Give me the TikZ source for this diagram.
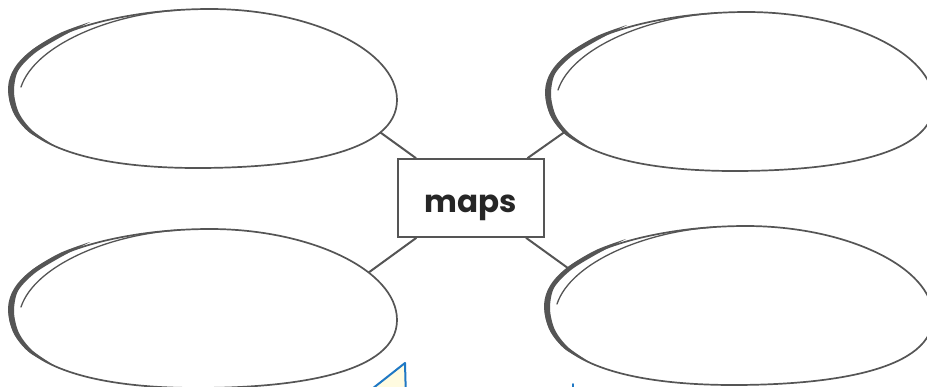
\documentclass[tikz,border=0pt]{standalone}
\usepackage{fontspec}
\setmainfont{Poppins}
\usetikzlibrary{backgrounds}
\definecolor{ink}{HTML}{555555}
\definecolor{pencilblue}{HTML}{1F78C4}
\definecolor{cream}{HTML}{FFFBE0}
\tikzset{
  sk/.style={draw=ink, line width=1.7pt, line cap=round, line join=round},
  link/.style={draw=ink, line width=2pt},
  mapsbox/.style={draw=ink, line width=1.6pt, fill=white, minimum width=146pt,
    minimum height=78pt, inner sep=0pt, text height=28pt, text depth=0pt,
    text=black!85, font=\bfseries\fontsize{31}{37}\selectfont},
  pencil/.style={draw=pencilblue, line width=2pt, line join=round, fill=cream},
  % hand-drawn oval: outline, tapered brush stroke on the left, inner sketch arc
  blob/.pic={
    \path[sk, fill=white] (9,92) .. controls (5,40) and (110,9) .. (210,9)
      .. controls (310,9) and (397,50) .. (397,100)
      .. controls (397,152) and (300,168) .. (197,168)
      .. controls (90,168) and (12,145) .. (9,92) -- cycle;
    \fill[ink] plot[smooth] coordinates {(90,22) (60,33) (32,50) (14,70) (8.5,92) (14,114) (30,133) (60,149)}
      -- plot[smooth] coordinates {(60,149) (33,131) (19,113) (14,92) (18,71) (35,53) (61,37) (90,22)} -- cycle;
    \draw[sk, line width=1.3pt] (21,87) .. controls (35,45) and (110,14) .. (180,10);
    \coordinate (-nw) at (36,54);
    \coordinate (-sw) at (29,128);
    \coordinate (-ne) at (368,53);
    \coordinate (-se) at (377,130);
  }
}
\begin{document}
\begin{tikzpicture}[x=1pt, y=-1pt]
  \useasboundingbox (0,0) rectangle (927,386);
  \clip (0,0) rectangle (927,386);

  \pic (tl) at (0,0) {blob};
  \pic (tr) at (537,3) {blob};
  \pic (bl) at (0,220) {blob};
  \pic (br) at (536,217) {blob};

  \node[mapsbox] (maps) at (471,198) {maps};

  \begin{scope}[on background layer]
    \draw[link] (tl-se) -- (maps);
    \draw[link] (tr-sw) -- (maps);
    \draw[link] (bl-ne) -- (maps);
    \draw[link] (br-nw) -- (maps);
  \end{scope}

  % pencil tips peeking in at the bottom edge
  \draw[pencil] (405,363) -- (406,400) -- (358,400) -- cycle;
  \draw[draw=pencilblue, line width=2pt, line cap=round] (573,384) -- (573,395);
\end{tikzpicture}
\end{document}
